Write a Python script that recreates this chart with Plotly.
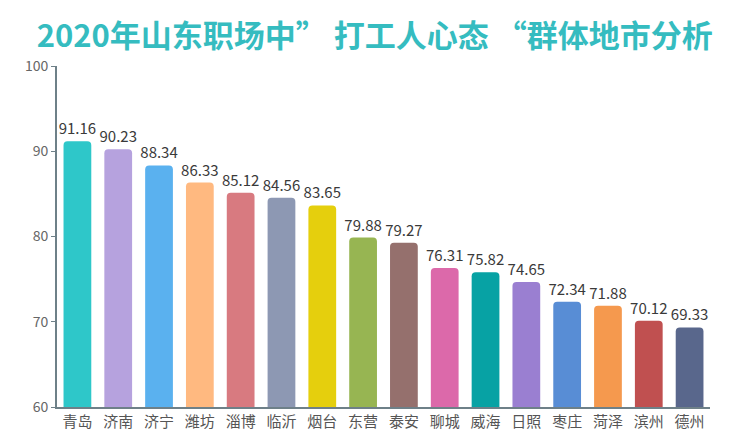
import plotly.graph_objects as go

cities = ["青岛", "济南", "济宁", "潍坊", "淄博", "临沂", "烟台", "东营", "泰安", "聊城",
          "威海", "日照", "枣庄", "菏泽", "滨州", "德州"]
scores = [91.16, 90.23, 88.34, 86.33, 85.12, 84.56, 83.65, 79.88, 79.27, 76.31,
          75.82, 74.65, 72.34, 71.88, 70.12, 69.33]
colors = ["#2EC7C9", "#B6A2DE", "#5AB1EF", "#FFB980", "#D87A80", "#8D98B3", "#E5CF0D",
          "#97B552", "#95706D", "#DC69AA", "#07A2A4", "#9A7FD1", "#588DD5", "#F5994E",
          "#C05050", "#59678C"]
y_ticks = [60, 70, 80, 90, 100]

fig = go.Figure(go.Bar(
    x=cities, y=scores, marker=dict(color=colors, line=dict(width=0)),
    text=[f"{v:.2f}" for v in scores], textposition="outside", cliponaxis=False,
    constraintext="none",
    textfont=dict(size=15, color="#3a3a3a", family="Noto Sans CJK SC"),
    width=0.68,
))
fig.update_layout(
    width=750, height=440, plot_bgcolor="white", paper_bgcolor="white",
    margin=dict(l=49, r=48, t=58, b=41),
    barcornerradius=4,
    showlegend=False,
    title=dict(text="<b>2020年山东职场中” 打工人心态 “群体地市分析</b>", x=0.489, xanchor="center",
               y=0.935, yanchor="middle",
               font=dict(size=31, color="#35BCC0", family="Noto Sans CJK SC")),
    font=dict(family="Noto Sans CJK SC"),
)
fig.update_yaxes(range=[60, 100], tickvals=y_ticks, showgrid=False, showline=True,
                 linecolor="#6E8088", linewidth=2, ticks="outside", ticklen=4,
                 tickcolor="#6E8088", tickfont=dict(size=14, color="#666"), zeroline=False,
                 automargin=False)
fig.update_xaxes(showline=True, linecolor="#6E8088", linewidth=2, ticks="",
                 tickfont=dict(size=15, color="#555"), range=[-0.5, 15.5], automargin=False)
fig.write_html("out.html")
